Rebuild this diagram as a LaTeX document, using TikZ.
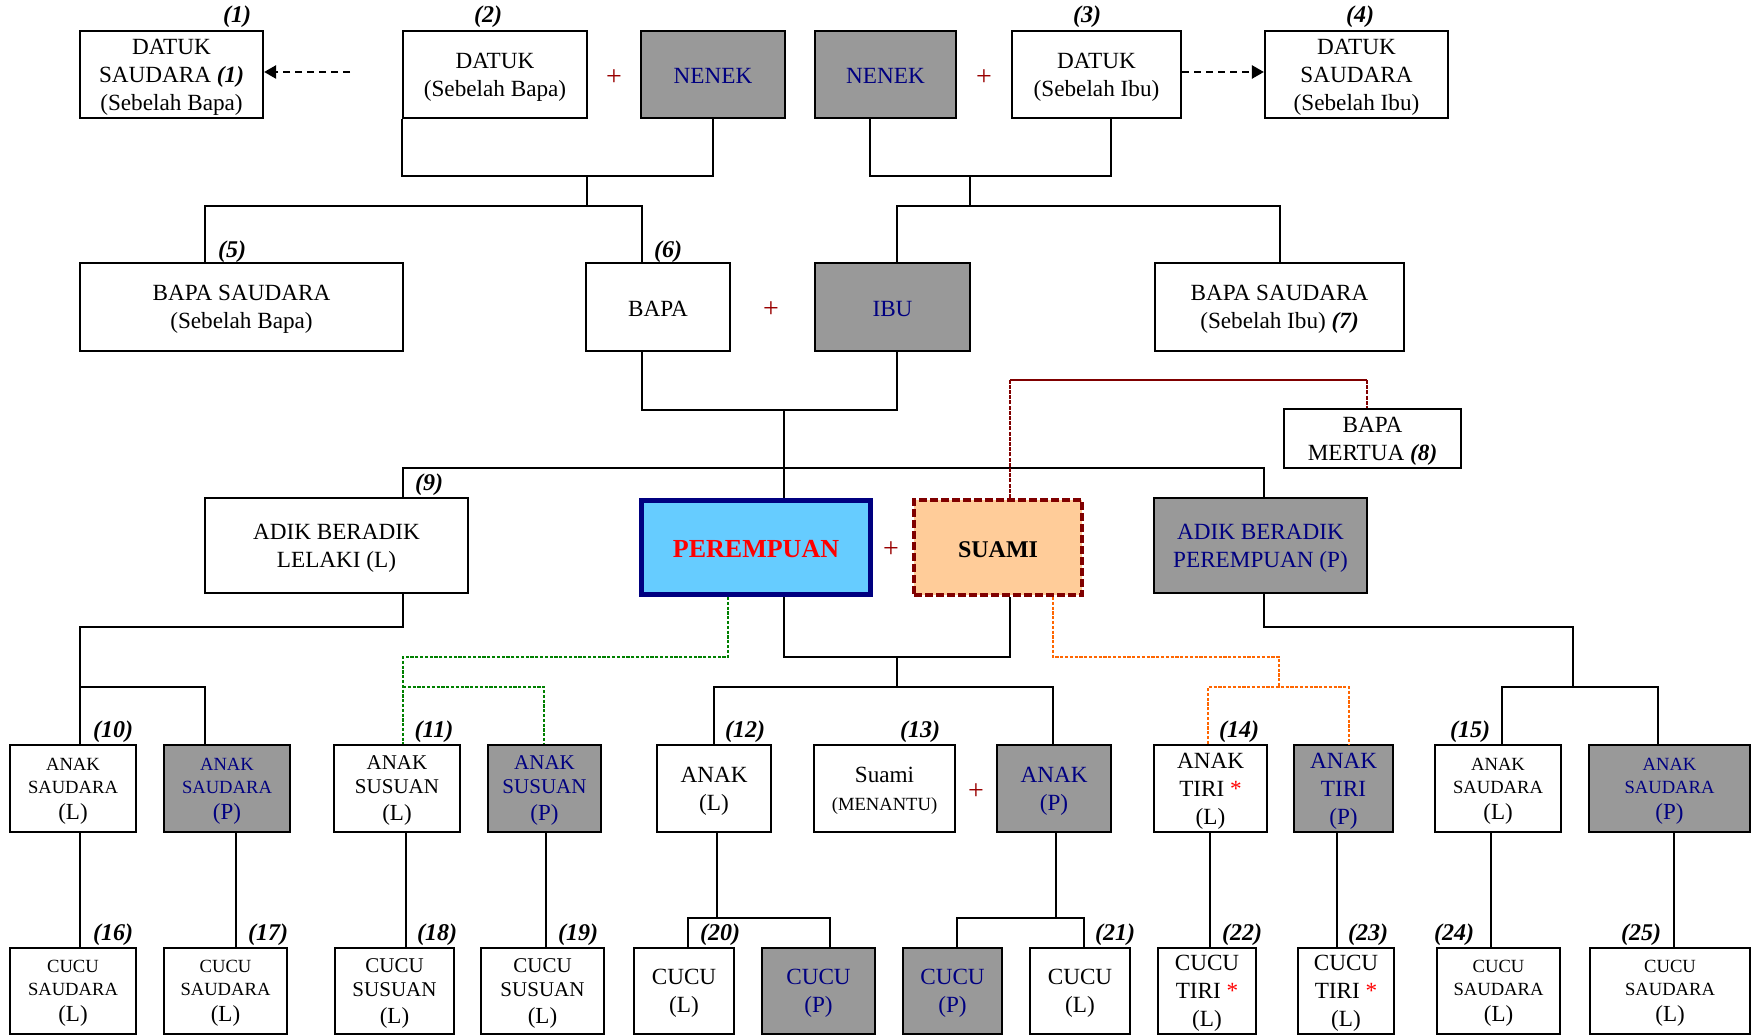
\documentclass[tikz,border=0pt]{standalone}
\usepackage{fontspec}
\setmainfont{Liberation Serif}
\usepackage{tikz}
\usetikzlibrary{arrows.meta}
\definecolor{boxgrey}{HTML}{999999}
\definecolor{navy}{HTML}{000080}
\definecolor{plusred}{HTML}{990000}
\definecolor{maroon}{HTML}{800000}
\definecolor{skyblue}{HTML}{66CCFF}
\definecolor{peach}{HTML}{FFCC99}
\definecolor{leaf}{HTML}{008000}
\definecolor{tiri}{HTML}{FF6600}
\newcommand\fsz[2]{\fontsize{#1}{#2}\selectfont}
\newcommand\nm[1]{\textbf{\textit{#1}}}
\newcommand\tst{{\color{red}*}}

\begin{document}
\begin{tikzpicture}[x=0.5pt, y=-0.5pt,
    box/.style={draw, line width=1.1pt, align=center, inner sep=0pt, font=\fsz{11.6}{14},
      text depth=0pt, execute at begin node={\rule{0pt}{0.8em}}},
    grey/.style={box, fill=boxgrey, text=navy},
    small/.style={font=\fsz{9.3}{11.5}},
    susu/.style={font=\fsz{10.5}{12}},
    num/.style={inner sep=0pt, font=\fsz{12}{12}\bfseries\itshape},
    plus/.style={inner sep=0pt, text=plusred, font=\fsz{14}{14}},
    link/.style={line width=1pt},
    thinlink/.style={line width=0.6pt},
    darr/.style={line width=1.2pt, dash pattern=on 3.5pt off 2.5pt, -{Triangle[length=6pt,width=6.5pt]}},
    mdash/.style={maroon, line width=1.1pt, dash pattern=on 2pt off 0.6pt},
    gdash/.style={leaf, line width=0.9pt, dash pattern=on 1.6pt off 0.8pt},
    odash/.style={tiri, line width=1pt, dash pattern=on 1.6pt off 0.8pt}]
\useasboundingbox (0,0) rectangle (1754,1036);

% datuk dan nenek
\node[box, minimum width=91.5pt, minimum height=43.5pt] (d1) at (171.5,74.5) {DATUK\\SAUDARA \nm{(1)}\\(Sebelah Bapa)};
\node[box, minimum width=92pt, minimum height=43.5pt] (d2) at (495,74.5) {DATUK\\(Sebelah Bapa)};
\node[grey, minimum width=72pt, minimum height=43.5pt] (nb) at (713,74.5) {NENEK};
\node[grey, minimum width=70.5pt, minimum height=43.5pt] (ni) at (885.5,74.5) {NENEK};
\node[box, minimum width=84.5pt, minimum height=43.5pt] (d3) at (1096.5,74.5) {DATUK\\(Sebelah Ibu)};
\node[box, minimum width=91.5pt, minimum height=43.5pt] (d4) at (1356.5,74.5) {DATUK\\SAUDARA\\(Sebelah Ibu)};

% bapa dan ibu
\node[box, minimum width=161.5pt, minimum height=44pt] (bs1) at (241.5,307) {BAPA SAUDARA\\(Sebelah Bapa)};
\node[box, minimum width=72pt, minimum height=44pt] (bapa) at (658,307) {BAPA};
\node[grey, minimum width=77.5pt, minimum height=44pt] (ibu) at (892.5,307) {IBU};
\node[box, minimum width=124.5pt, minimum height=44pt] (bs2) at (1279.5,307) {BAPA SAUDARA\\(Sebelah Ibu) \nm{(7)}};
\node[box, line width=0.8pt, minimum width=88.5pt, minimum height=29.5pt] (mertua) at (1372.5,438.5) {BAPA\\MERTUA \nm{(8)}};

% perempuan dan adik beradik
\node[box, minimum width=131.5pt, minimum height=47.5pt] (adikL) at (336.5,545.5) {ADIK BERADIK\\LELAKI (L)};
\node[box, draw=navy, line width=2.7pt, fill=skyblue, text=red, minimum width=114.3pt, minimum height=46.8pt, font=\fsz{13}{14}\bfseries] (pr) at (756,547.5) {PEREMPUAN};
\node[box, draw=maroon, line width=2pt, dash pattern=on 4pt off 1.5pt, fill=peach, minimum width=84pt, minimum height=47.5pt, font=\fsz{12}{14}\bfseries] (sm) at (998,547.5) {SUAMI};
\node[grey, minimum width=106.5pt, minimum height=47.5pt] (adikP) at (1260.5,545.5) {ADIK BERADIK\\PEREMPUAN (P)};

% anak
\node[box, small, minimum width=63pt, minimum height=43.5pt] (as10) at (73,788.5) {ANAK\\SAUDARA\\[1.5pt]{\fsz{11.5}{13}(L)}};
\node[grey, small, minimum width=63pt, minimum height=43.5pt] (as10p) at (227,788.5) {ANAK\\SAUDARA\\[1.5pt]{\fsz{11.5}{13}(P)}};
\node[box, susu, minimum width=63pt, minimum height=43.5pt] (su11) at (397,788.5) {ANAK\\SUSUAN\\[1.5pt]{\fsz{11.5}{13}(L)}};
\node[grey, susu, minimum width=56.5pt, minimum height=43.5pt] (su11p) at (544.5,788.5) {ANAK\\SUSUAN\\[1.5pt]{\fsz{11.5}{13}(P)}};
\node[box, minimum width=57pt, minimum height=43.5pt] (ak12) at (714,788.5) {ANAK\\(L)};
\node[box, minimum width=70.5pt, minimum height=43.5pt] (mn13) at (884.5,788.5) {Suami\\{\fsz{9.3}{11}(MENANTU)}};
\node[grey, minimum width=57pt, minimum height=43.5pt] (ak12p) at (1054,788.5) {ANAK\\(P)};
\node[box, minimum width=56.5pt, minimum height=43.5pt] (tr14) at (1210.5,788.5) {ANAK\\TIRI \tst\\(L)};
\node[grey, minimum width=49.5pt, minimum height=43.5pt] (tr14p) at (1343.5,788.5) {ANAK\\TIRI\\(P)};
\node[box, small, minimum width=63pt, minimum height=43.5pt] (as15) at (1498,788.5) {ANAK\\SAUDARA\\[1.5pt]{\fsz{11.5}{13}(L)}};
\node[grey, small, minimum width=80.5pt, minimum height=43.5pt] (as15p) at (1669.5,788.5) {ANAK\\SAUDARA\\[1.5pt]{\fsz{11.5}{13}(P)}};

% cucu
\node[box, small, minimum width=63pt, minimum height=43pt] (c16) at (73,991) {CUCU\\SAUDARA\\[1.5pt]{\fsz{11.5}{13}(L)}};
\node[box, small, minimum width=61.5pt, minimum height=43pt] (c17) at (225.5,991) {CUCU\\SAUDARA\\[1.5pt]{\fsz{11.5}{13}(L)}};
\node[box, susu, minimum width=59.5pt, minimum height=43pt] (c18) at (394.5,991) {CUCU\\SUSUAN\\[1.5pt]{\fsz{11.5}{13}(L)}};
\node[box, susu, minimum width=61.5pt, minimum height=43pt] (c19) at (542.5,991) {CUCU\\SUSUAN\\[1.5pt]{\fsz{11.5}{13}(L)}};
\node[box, minimum width=50pt, minimum height=43pt] (c20) at (684,991) {CUCU\\(L)};
\node[grey, minimum width=56.5pt, minimum height=43pt] (c20p) at (818.5,991) {CUCU\\(P)};
\node[grey, minimum width=49.5pt, minimum height=43pt] (c21p) at (952.5,991) {CUCU\\(P)};
\node[box, minimum width=50pt, minimum height=43pt] (c21) at (1080,991) {CUCU\\(L)};
\node[box, minimum width=49pt, minimum height=43pt] (c22) at (1207,991) {CUCU\\TIRI \tst\\(L)};
\node[box, minimum width=48pt, minimum height=43pt] (c23) at (1346,991) {CUCU\\TIRI \tst\\(L)};
\node[box, small, minimum width=61.5pt, minimum height=43pt] (c24) at (1498.5,991) {CUCU\\SAUDARA\\[1.5pt]{\fsz{11.5}{13}(L)}};
\node[box, small, minimum width=80pt, minimum height=43pt] (c25) at (1670,991) {CUCU\\SAUDARA\\[1.5pt]{\fsz{11.5}{13}(L)}};

% nombor
\foreach \t/\x/\y in {1/237/17, 2/488/17, 3/1087/17, 4/1360/17, 5/232/252, 6/668/252,
    9/429/485, 10/113/732, 11/434/732, 12/745/732, 13/920/732, 14/1239/732, 15/1470/732,
    16/113/935, 17/268/935, 18/437/935, 19/578/935, 20/720/935, 21/1115/935,
    22/1242/935, 23/1368/935, 24/1454/935, 25/1641/935}
  \node[num] (l\t) at (\x,\y) {(\t)};

% tanda +
\node[plus] (p1) at (614,78) {+};
\node[plus] (p2) at (984,78) {+};
\node[plus] (p3) at (771,310) {+};
\node[plus] (p4) at (891,550) {+};
\node[plus] (p5) at (976,792) {+};

% datuk saudara
\coordinate (da) at (350,72);
\draw[darr] (da) -- (d1.east |- da);
\draw[darr] (d3.east |- da) -- (d4.west |- da);

% sebelah bapa
\coordinate (mb) at (587,176);
\coordinate (kb) at (587,206);
\draw[link] (d2.south west) |- (mb) -| (nb.south);
\draw[link] (mb) -- (kb);
\draw[link] (bs1.north -| 205,0) |- (kb) -| (bapa.north -| 642,0);

% sebelah ibu
\coordinate (mi) at (970,176);
\coordinate (ki) at (970,206);
\draw[link] (ni.south -| 870,0) |- (mi) -| (d3.south -| 1111,0);
\draw[link] (mi) -- (ki);
\draw[link] (ibu.north -| 897,0) |- (ki) -| (bs2.north);

% bapa + ibu
\coordinate (mp) at (784,410);
\coordinate (sb) at (784,468);
\draw[link] (bapa.south -| 642,0) |- (mp) -| (ibu.south -| 897,0);
\draw[link] (mp) -- (pr.north -| mp);
\draw[link] (adikL.north -| 403,0) |- (sb) -| (adikP.north -| 1264,0);

% bapa mertua
\coordinate (mt1) at (1010,380);
\coordinate (mt2) at (1367,380);
\draw[mdash] (sm.north -| mt1) -- (mt1);
\draw[maroon, line width=1.3pt] (mt1) -- (mt2);
\draw[mdash] (mt2) -- (mertua.north -| mt2);

% anak adik beradik lelaki
\coordinate (k9) at (80,627);
\coordinate (k9b) at (80,687);
\draw[link] (adikL.south -| 403,0) |- (k9) -- (as10.north -| k9);
\draw[link] (k9b) -| (as10p.north -| 205,0);

% anak susuan
\coordinate (g1) at (403,657);
\coordinate (g2) at (403,687);
\draw[gdash] (pr.south -| 728,0) |- (g1) -- (su11.north -| g1);
\draw[gdash] (g2) -| (su11p.north -| 544,0);

% anak sendiri
\coordinate (mc) at (897,657);
\coordinate (kc) at (897,687);
\draw[thinlink] (pr.south -| 784,0) |- (mc) -| (sm.south -| 1010,0);
\draw[thinlink] (mc) -- (kc);
\draw[thinlink] (ak12.north) |- (kc) -| (ak12p.north -| 1053,0);

% anak tiri
\coordinate (o1) at (1279,657);
\coordinate (o2) at (1279,687);
\draw[odash] (sm.south -| 1053,0) |- (o1) -- (o2);
\draw[odash] (tr14.north -| 1208,0) |- (o2) -| (tr14p.north -| 1349,0);

% anak adik beradik perempuan
\coordinate (k15) at (1573,627);
\coordinate (k15b) at (1573,687);
\draw[link] (adikP.south -| 1264,0) |- (k15) -- (k15b);
\draw[link] (as15.north -| 1502,0) |- (k15b) -| (as15p.north -| 1658,0);

% cucu
\foreach \a/\b/\x in {as10/c16/80, as10p/c17/236, su11/c18/406, su11p/c19/546,
    tr14/c22/1210, tr14p/c23/1337, as15/c24/1491, as15p/c25/1674}
  \draw[link] (\a.south -| \x,0) -- (\b.north -| \x,0);
\coordinate (k20) at (717,918);
\coordinate (k21) at (1056,918);
\draw[link] (ak12.south -| k20) -- (k20);
\draw[link] (c20.north -| 688,0) |- (k20) -| (c20p.north -| 830,0);
\draw[link] (ak12p.south -| k21) -- (k21);
\draw[link] (c21p.north -| 957,0) |- (k21) -| (c21.north -| 1084,0);
\end{tikzpicture}
\end{document}
